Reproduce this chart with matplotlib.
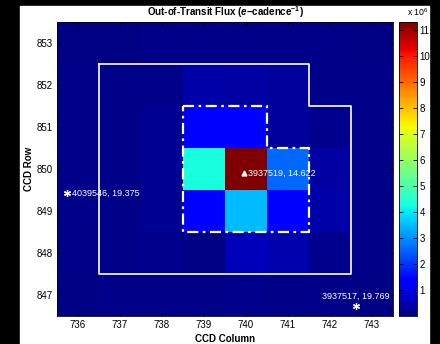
import numpy as np
import matplotlib
matplotlib.use('Agg')
import matplotlib.pyplot as plt
from matplotlib.patches import Rectangle

plt.rcParams['font.family'] = ['Liberation Sans', 'DejaVu Sans']
plt.rcParams['mathtext.fontset'] = 'custom'
plt.rcParams['mathtext.rm'] = 'Liberation Sans'
plt.rcParams['mathtext.it'] = 'Liberation Sans:italic'
plt.rcParams['mathtext.bf'] = 'Liberation Sans:bold'
plt.rcParams['mathtext.bfit'] = 'Liberation Sans:italic:bold'

# CCD pixel grid
columns = [736, 737, 738, 739, 740, 741, 742, 743]
rows = [853, 852, 851, 850, 849, 848, 847]   # top to bottom

# out-of-transit flux, units of 1e6 e-/cadence (rows listed top to bottom)
flux = [
    [0.08, 0.08, 0.09, 0.12, 0.12, 0.11, 0.09, 0.08],
    [0.09, 0.10, 0.13, 0.42, 0.38, 0.28, 0.13, 0.09],
    [0.10, 0.11, 0.18, 1.24, 1.26, 0.28, 0.16, 0.10],
    [0.10, 0.12, 0.22, 4.30, 11.30, 2.60, 0.36, 0.13],
    [0.10, 0.12, 0.20, 1.35, 3.50, 1.30, 0.42, 0.13],
    [0.09, 0.10, 0.14, 0.05, 0.58, 0.46, 0.16, 0.10],
    [0.08, 0.09, 0.10, 0.10, 0.14, 0.13, 0.10, 0.08],
]

# aperture outlines (pixel-edge vertices)
mask_x = [736.5, 741.5, 741.5, 742.5, 742.5, 736.5, 736.5]
mask_y = [852.5, 852.5, 851.5, 851.5, 847.5, 847.5, 852.5]
ap_x = [738.5, 740.5, 740.5, 741.5, 741.5, 738.5, 738.5]
ap_y = [851.5, 851.5, 850.5, 850.5, 848.5, 848.5, 851.5]

# nearby stars: column, row, label
star_col = [735.74, 742.63]
star_row = [849.43, 846.74]
star_lbl = ['4039546, 19.375', '3937517, 19.769']
target_col, target_row, target_lbl = 739.95, 849.9, '3937519, 14.622'

cbar_ticks = [1, 2, 3, 4, 5, 6, 7, 8, 9, 10, 11]

fig = plt.figure(figsize=(4.4, 3.44), dpi=100, facecolor='black')
fig.patches.append(Rectangle((20 / 440, 0), 409 / 440, 338 / 344,
                             transform=fig.transFigure, color='white', zorder=-10))

ax = fig.add_axes([57 / 440, 28 / 344, 336 / 440, 294 / 344])
data = np.array(flux)[::-1] * 1e6
im = ax.imshow(data, cmap='jet', vmin=0, vmax=11.3e6, origin='lower',
               extent=(735.5, 743.5, 846.5, 853.5), aspect='auto',
               interpolation='nearest')

ax.plot(mask_x, mask_y, color='white', lw=1.2)
ax.plot(ap_x, ap_y, color='white', lw=1.6, ls='-.', dashes=(5, 2, 1.2, 2))

ax.plot(star_col, star_row, ls='none', marker=(6, 2, 0), color='white',
        ms=5, mew=0.9)
ax.text(star_col[0] + 0.12, star_row[0], star_lbl[0], color='white',
        fontsize=6.5, va='center', ha='left')
ax.text(star_col[1] - 0.02, star_row[1] + 0.22, star_lbl[1], color='white',
        fontsize=6.5, va='center', ha='center')
ax.plot([target_col], [target_row], ls='none', marker='^', color='white', ms=3.5)
ax.text(target_col + 0.1, target_row, target_lbl, color='white',
        fontsize=6.5, va='center', ha='left')

ax.set_xlim(735.5, 743.5)
ax.set_ylim(846.5, 853.5)
ax.set_xticks(columns)
ax.set_yticks(rows)
ax.tick_params(direction='in', length=3, width=0.6, top=True, right=True,
               labelsize=7, pad=3, color='black')
for s in ax.spines.values():
    s.set_linewidth(0.6)

ax.set_xlabel('CCD Column', fontsize=7, fontweight='bold', labelpad=3)
ax.set_ylabel('CCD Row', fontsize=7, fontweight='bold', labelpad=2)
ax.set_title(r'Out-of-Transit Flux ($\mathbfit{e}$$\mathbf{-}$cadence$^{\mathbf{-1}}$)',
             fontsize=7, fontweight='bold', pad=4)

cax = fig.add_axes([399 / 440, 28 / 344, 18 / 440, 294 / 344])
cb = fig.colorbar(im, cax=cax)
cb.set_ticks([t * 1e6 for t in cbar_ticks])
cb.set_ticklabels([str(t) for t in cbar_ticks])
cax.tick_params(direction='in', length=3, width=0.6, labelsize=7, pad=2,
                left=True, right=True)
cb.outline.set_linewidth(0.6)
fig.text(407 / 440, 1 - 12 / 344, r'x 10$^6$', fontsize=6.3, va='center', ha='left')

fig.savefig('out.png', dpi=100, facecolor=fig.get_facecolor())
